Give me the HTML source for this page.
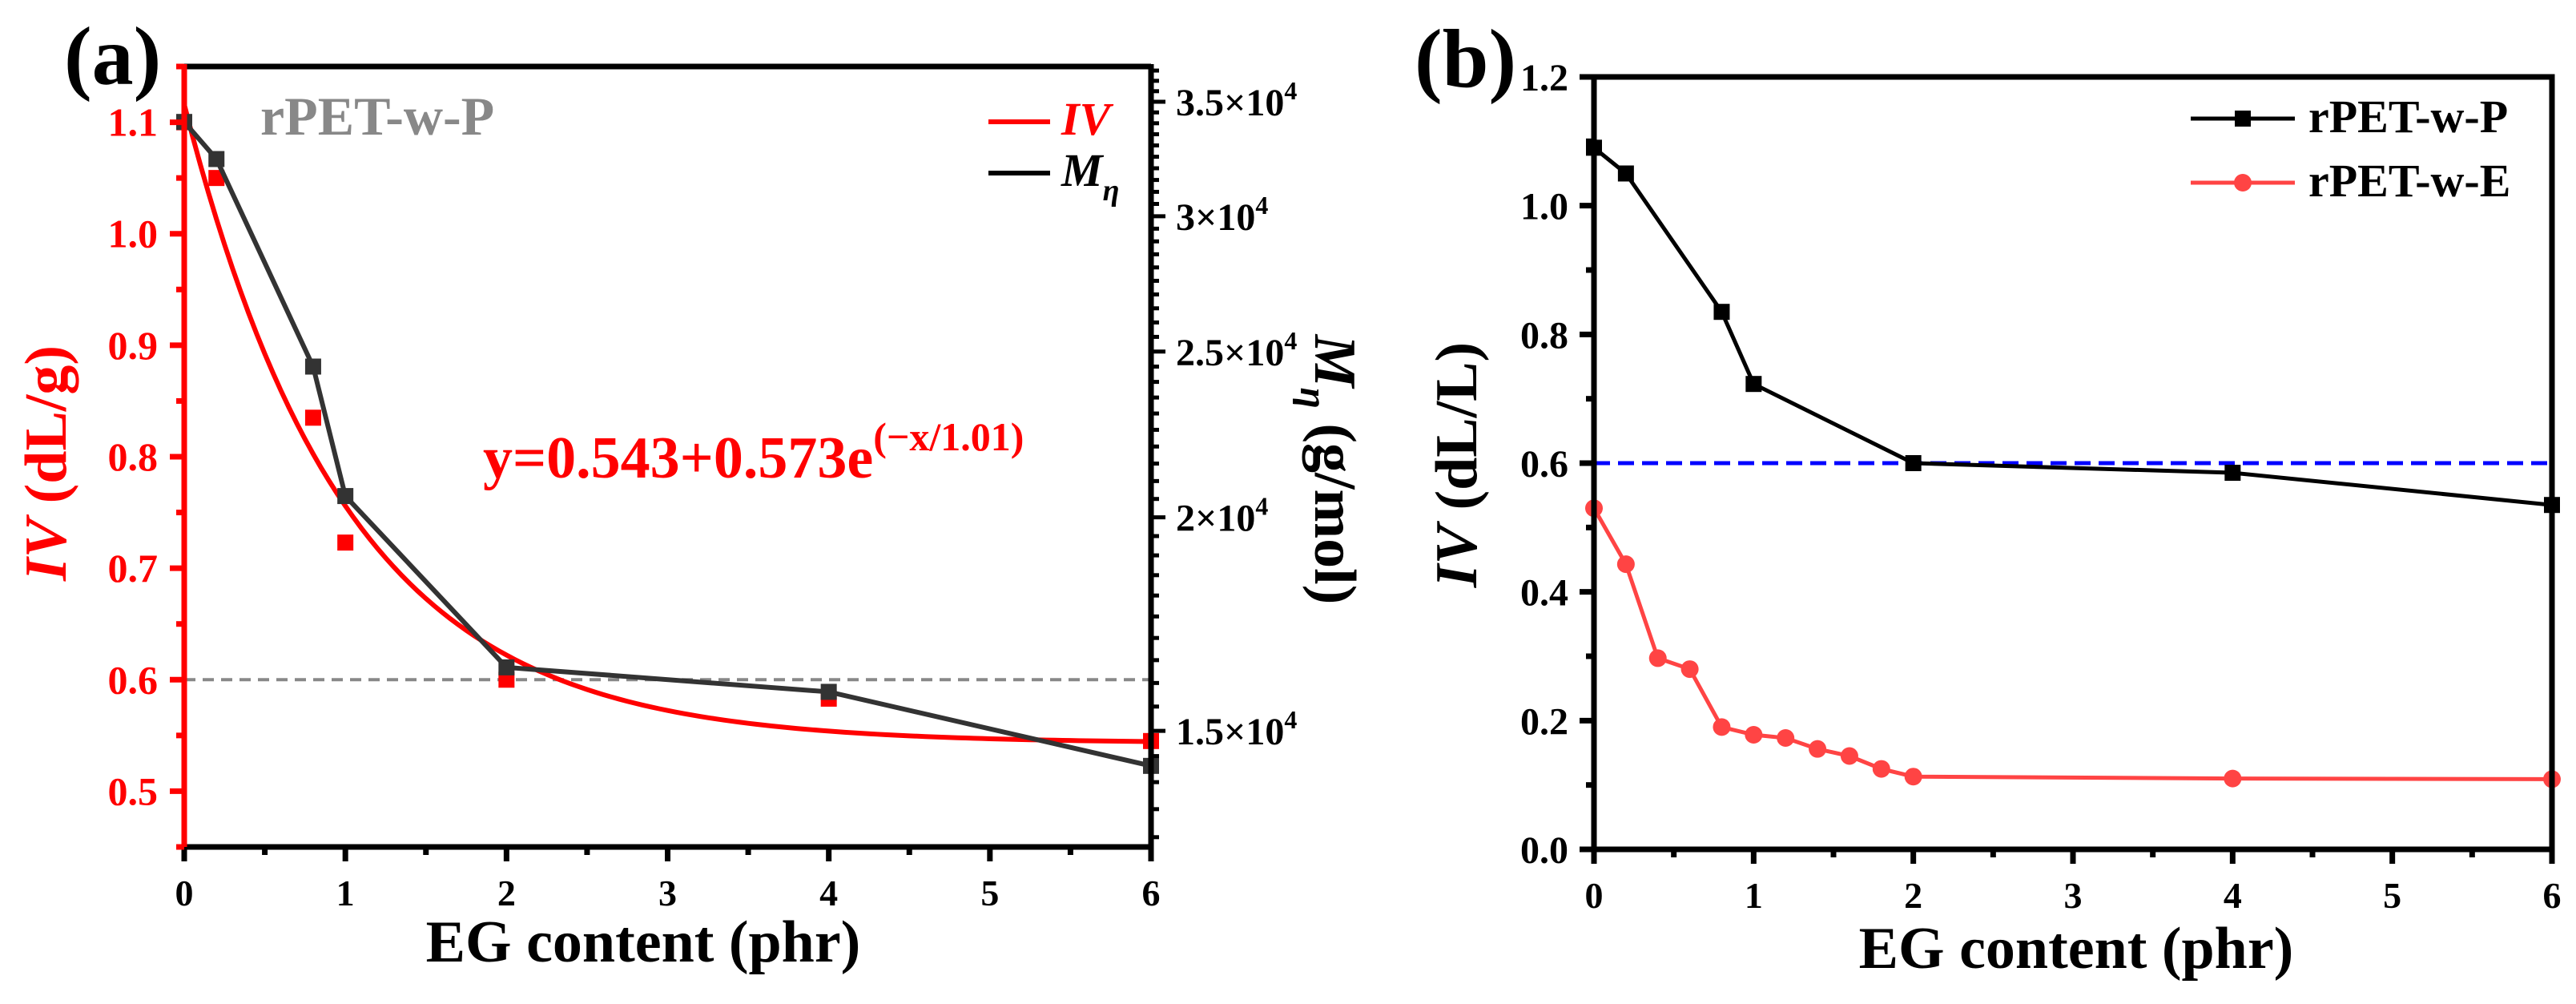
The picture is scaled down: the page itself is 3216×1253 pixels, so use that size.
<!DOCTYPE html>
<html><head><meta charset="utf-8"><style>
html,body{margin:0;padding:0;background:#fff;}
svg{display:block;font-family:"Liberation Serif",serif;font-weight:bold;}
</style></head><body>
<svg id="svg" width="3216" height="1253" viewBox="0 0 3216 1253" xmlns="http://www.w3.org/2000/svg"></svg>
<script>
// Panel (a) data
const aX = [0, 0.2, 0.8, 1.0, 2, 4, 6];
const aIV = [1.10, 1.05, 0.835, 0.723, 0.600, 0.583, 0.545];
const aMw = [34060, 32400, 24500, 20580, 16340, 15810, 14310];
const aYTicks = [0.5, 0.6, 0.7, 0.8, 0.9, 1.0, 1.1];
const aRTicks = [15000, 20000, 25000, 30000, 35000];
const aRLabels = ["1.5", "2", "2.5", "3", "3.5"];
const xTicks = [0, 1, 2, 3, 4, 5, 6];
const fitA = 0.543, fitB = 0.573, fitT = 1.01;
// Panel (b) data
const bXP = [0, 0.2, 0.8, 1.0, 2, 4, 6];
const bYP = [1.09, 1.05, 0.835, 0.723, 0.600, 0.585, 0.535];
const bXE = [0, 0.2, 0.4, 0.6, 0.8, 1.0, 1.2, 1.4, 1.6, 1.8, 2, 4, 6];
const bYE = [0.53, 0.443, 0.297, 0.28, 0.19, 0.178, 0.173, 0.156, 0.145, 0.125, 0.113, 0.11, 0.109];
const bYTicks = [0.0, 0.2, 0.4, 0.6, 0.8, 1.0, 1.2];

const NS = "http://www.w3.org/2000/svg";
const svg = document.getElementById('svg');
function el(tag, attrs, parent, text) {
  const e = document.createElementNS(NS, tag);
  for (const k in attrs) e.setAttribute(k, attrs[k]);
  if (text !== undefined) e.textContent = text;
  (parent || svg).appendChild(e);
  return e;
}
// ---------- Panel A ----------
const A = {l: 230, r: 1437, t: 83, b: 1057};
const ax = v => A.l + (v - 0) / 6 * (A.r - A.l);
const ay = v => A.b - (v - 0.45) / 0.70 * (A.b - A.t);
const LMIN = 12830, LMAX = 36700;
const ayR = v => A.b - Math.log(v / LMIN) / Math.log(LMAX / LMIN) * (A.b - A.t);

const gA = el('g', {});


let e = el('line', {x1: A.l, x2: A.r, y1: ay(0.6), y2: ay(0.6), stroke: '#888', 'stroke-width': 4, 'stroke-dasharray': '14,9'}, gA);


let pts = [];
for (let i = 0; i <= 120; i++) { const x = 6 * i / 120; pts.push(ax(x) + ',' + ay(fitA + fitB * Math.exp(-x / fitT))); }
e = el('polyline', {points: pts.join(' '), fill: 'none', stroke: '#f00', 'stroke-width': 6}, gA);


aX.forEach((x, i) => {
  const m = el('rect', {x: ax(x) - 10, y: ay(aIV[i]) - 10, width: 20, height: 20, fill: '#f00'}, gA);
  
  
});
e = el('polyline', {points: aX.map((x, i) => ax(x) + ',' + ayR(aMw[i])).join(' '), fill: 'none', stroke: '#333', 'stroke-width': 6}, gA);


aX.forEach((x, i) => {
  const m = el('rect', {x: ax(x) - 10, y: ayR(aMw[i]) - 10, width: 20, height: 20, fill: '#333'}, gA);
  
  
});
e = el('line', {x1: A.l, x2: A.r, y1: A.t, y2: A.t, stroke: '#000', 'stroke-width': 7}, gA);
 
e = el('line', {x1: A.l, x2: A.r + 3, y1: A.b, y2: A.b, stroke: '#000', 'stroke-width': 7}, gA);
 
e = el('line', {x1: A.r, x2: A.r, y1: A.t - 3, y2: A.b, stroke: '#000', 'stroke-width': 7}, gA);
 
e = el('line', {x1: A.l, x2: A.l, y1: A.t - 3, y2: A.b + 3, stroke: '#f00', 'stroke-width': 7}, gA);
 
for (let v = 0; v <= 6.001; v += 0.5) {
  const maj = Math.abs(v - Math.round(v)) < 0.01;
  el('line', {x1: ax(v), x2: ax(v), y1: A.b, y2: A.b + (maj ? 18 : 10), stroke: '#000', 'stroke-width': 7}, gA);
}
xTicks.forEach(v => {
  const t = el('text', {x: ax(v), y: 1130, 'text-anchor': 'middle', 'font-size': 46}, gA, String(v));
   
});
for (let v = 0.45; v <= 1.151; v += 0.05) {
  const maj = Math.abs(v * 10 - Math.round(v * 10)) < 0.01;
  el('line', {x1: A.l, x2: A.l - (maj ? 18 : 10), y1: ay(v), y2: ay(v), stroke: '#f00', 'stroke-width': 7}, gA);
}
aYTicks.forEach(v => {
  const t = el('text', {x: 197, y: ay(v) + 17, 'text-anchor': 'end', 'font-size': 50, fill: '#f00'}, gA, v.toFixed(1));
   
});
for (let v = 13000; v <= 36500; v += 500) {
  const maj = aRTicks.indexOf(v) >= 0;
  el('line', {x1: A.r, x2: A.r + (maj ? 18 : 10), y1: ayR(v), y2: ayR(v), stroke: '#000', 'stroke-width': 5}, gA);
}
aRTicks.forEach((v, i) => {
  const t = el('text', {x: 1468, y: ayR(v) + 17, 'font-size': 48}, gA);
   
  t.appendChild(document.createTextNode(aRLabels[i] + '×10'));
  el('tspan', {dy: -20, 'font-size': 32}, t, '4');
});
let tt = el('text', {x: 803, y: 1200, 'text-anchor': 'middle', 'font-size': 74}, gA, 'EG content (phr)');
 
tt = el('text', {transform: 'translate(82,578) rotate(-90)', 'text-anchor': 'middle', 'font-size': 74, fill: '#f00'}, gA);
 
el('tspan', {'font-style': 'italic'}, tt, 'IV');
tt.appendChild(document.createTextNode(' (dL/g)'));
tt = el('text', {transform: 'translate(1642,586) rotate(90)', 'text-anchor': 'middle', 'font-size': 74}, gA);
 
el('tspan', {'font-style': 'italic'}, tt, 'M');
el('tspan', {'font-style': 'italic', 'font-size': 48, dy: 18}, tt, 'η');
el('tspan', {dy: -18}, tt, ' (g/mol)');
tt = el('text', {x: 80, y: 105, 'font-size': 104}, gA, '(a)');
 
tt = el('text', {x: 325, y: 168, 'font-size': 68, fill: '#888'}, gA, 'rPET-w-P');
 
tt = el('text', {x: 603, y: 596, 'font-size': 74, fill: '#f00'}, gA);
 
tt.appendChild(document.createTextNode('y=0.543+0.573e'));
el('tspan', {dy: -34, 'font-size': 50}, tt, '(−x/1.01)');
const lgA = el('g', {}, gA);
 
el('line', {x1: 1234, x2: 1311, y1: 152, y2: 152, stroke: '#f00', 'stroke-width': 6}, lgA);
el('text', {x: 1325, y: 168, 'font-size': 58, fill: '#f00', 'font-style': 'italic'}, lgA, 'IV');
el('line', {x1: 1234, x2: 1311, y1: 216, y2: 216, stroke: '#000', 'stroke-width': 6}, lgA);
let lm = el('text', {x: 1325, y: 232, 'font-size': 58, 'font-style': 'italic'}, lgA);
lm.appendChild(document.createTextNode('M'));
el('tspan', {dy: 18, 'font-size': 38}, lm, 'η');

// ---------- Panel B ----------
const B = {l: 1990, r: 3186, t: 96, b: 1060};
const bx = v => B.l + v / 6 * (B.r - B.l);
const by = v => B.b - v / 1.2 * (B.b - B.t);
const gB = el('g', {});


e = el('line', {x1: B.l, x2: B.r, y1: by(0.6), y2: by(0.6), stroke: '#00f', 'stroke-width': 5, 'stroke-dasharray': '20,10'}, gB);
 
e = el('polyline', {points: bXP.map((x, i) => bx(x) + ',' + by(bYP[i])).join(' '), fill: 'none', stroke: '#000', 'stroke-width': 5}, gB);
 
bXP.forEach((x, i) => {
  const m = el('rect', {x: bx(x) - 10, y: by(bYP[i]) - 10, width: 20, height: 20, fill: '#000'}, gB);
   
});
e = el('polyline', {points: bXE.map((x, i) => bx(x) + ',' + by(bYE[i])).join(' '), fill: 'none', stroke: '#f44', 'stroke-width': 5}, gB);
 
bXE.forEach((x, i) => {
  const m = el('circle', {cx: bx(x), cy: by(bYE[i]), r: 11, fill: '#f44'}, gB);
   
});
e = el('rect', {x: B.l, y: B.t, width: B.r - B.l, height: B.b - B.t, fill: 'none', stroke: '#000', 'stroke-width': 7}, gB);
 
for (let v = 0; v <= 6.001; v += 0.5) {
  const maj = Math.abs(v - Math.round(v)) < 0.01;
  el('line', {x1: bx(v), x2: bx(v), y1: B.b, y2: B.b + (maj ? 18 : 10), stroke: '#000', 'stroke-width': 7}, gB);
}
xTicks.forEach(v => {
  const t = el('text', {x: bx(v), y: 1133, 'text-anchor': 'middle', 'font-size': 46}, gB, String(v));
   
});
for (let v = 0; v <= 1.201; v += 0.1) {
  const maj = Math.round(v * 10) % 2 === 0;
  el('line', {x1: B.l, x2: B.l - (maj ? 18 : 10), y1: by(v), y2: by(v), stroke: '#000', 'stroke-width': 7}, gB);
}
bYTicks.forEach(v => {
  const t = el('text', {x: 1958, y: by(v) + 17, 'text-anchor': 'end', 'font-size': 48}, gB, v.toFixed(1));
   
});
tt = el('text', {x: 2592, y: 1208, 'text-anchor': 'middle', 'font-size': 74}, gB, 'EG content (phr)');
 
tt = el('text', {transform: 'translate(1843,580) rotate(-90)', 'text-anchor': 'middle', 'font-size': 74}, gB);
 
el('tspan', {'font-style': 'italic'}, tt, 'IV');
tt.appendChild(document.createTextNode(' (dL/L)'));
tt = el('text', {x: 1766, y: 108, 'font-size': 104}, gB, '(b)');
 
const lgB = el('g', {}, gB);
 
el('line', {x1: 2735, x2: 2865, y1: 148, y2: 148, stroke: '#000', 'stroke-width': 5}, lgB);
el('rect', {x: 2790, y: 138, width: 20, height: 20, fill: '#000'}, lgB);
el('text', {x: 2882, y: 165, 'font-size': 58}, lgB, 'rPET-w-P');
el('line', {x1: 2735, x2: 2865, y1: 228, y2: 228, stroke: '#f44', 'stroke-width': 5}, lgB);
el('circle', {cx: 2800, cy: 228, r: 11, fill: '#f44'}, lgB);
el('text', {x: 2882, y: 245, 'font-size': 58}, lgB, 'rPET-w-E');
</script>
</body></html>
